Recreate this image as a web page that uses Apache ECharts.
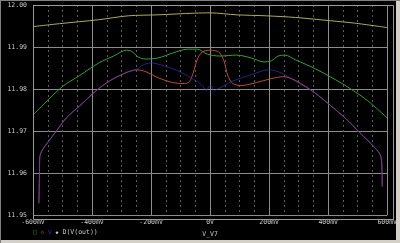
<!DOCTYPE html>
<html>
<head>
<meta charset="utf-8">
<script src="https://cdn.jsdelivr.net/npm/echarts@6/dist/echarts.min.js"></script>
<style>
  html, body { margin: 0; padding: 0; background: #000; }
  #chart { width: 400px; height: 243px; }
</style>
</head>
<body>
<div id="chart"></div>
<script>
// Tick labels
var xTickLabels = ['-600mV', '-400mV', '-200mV', '0V', '200mV', '400mV', '600mV'];
var yTickLabels = ['11.95', '11.96', '11.97', '11.98', '11.99', '12.00'];

// Trace 1 (yellow, top)
var yellowX = [-0.6, -0.51, -0.377, -0.277, -0.177, -0.053, 0, 0.09, 0.19, 0.29, 0.407, 0.49, 0.6];
var yellowY = [11.99486, 11.99556, 11.99650, 11.99743, 11.99766, 11.99806, 11.99813, 11.99766, 11.99743, 11.99703, 11.99626, 11.99568, 11.99463];

// Trace 2 (green)
var greenX = [-0.6, -0.56, -0.5, -0.443, -0.377, -0.327, -0.283, -0.267, -0.243, -0.22, -0.177, -0.127, -0.077, -0.043, -0.01, 0.033, 0.09, 0.14, 0.183, 0.207, 0.23, 0.253, 0.29, 0.357, 0.447, 0.523, 0.563, 0.6];
var greenY = [11.97383, 11.97664, 11.9806, 11.98318, 11.98621, 11.98785, 11.98925, 11.98902, 11.98762, 11.98715, 11.98738, 11.98855, 11.98949, 11.98949, 11.98832, 11.98785, 11.98808, 11.98738, 11.98645, 11.98668, 11.98785, 11.98808, 11.98692, 11.98481, 11.98131, 11.9778, 11.97547, 11.97313];

// Trace 3 (red)
var redX = [-0.58, -0.578, -0.577, -0.567, -0.55, -0.52, -0.487, -0.443, -0.377, -0.327, -0.277, -0.25, -0.217, -0.177, -0.127, -0.087, -0.07, -0.057, -0.043, -0.027, 0, 0.03, 0.047, 0.06, 0.077, 0.107, 0.157, 0.207, 0.25, 0.29, 0.357, 0.457, 0.507, 0.557, 0.577, 0.582, 0.583];
var redY = [11.9528, 11.96028, 11.96379, 11.96565, 11.96729, 11.97009, 11.97313, 11.97593, 11.98014, 11.98248, 11.98411, 11.98458, 11.98411, 11.98271, 11.98154, 11.98131, 11.98178, 11.98388, 11.98715, 11.98879, 11.98925, 11.98879, 11.98668, 11.98318, 11.98131, 11.98084, 11.98154, 11.98248, 11.98294, 11.98201, 11.97897, 11.97313, 11.96963, 11.96612, 11.96425, 11.96145, 11.95678];

// Trace 4 (blue)
var blueX = [-0.58, -0.578, -0.577, -0.567, -0.55, -0.52, -0.487, -0.443, -0.377, -0.327, -0.277, -0.25, -0.227, -0.2, -0.167, -0.11, -0.06, -0.027, -0.013, -0.003, 0.003, 0.013, 0.03, 0.073, 0.14, 0.197, 0.24, 0.29, 0.357, 0.457, 0.507, 0.557, 0.577, 0.582, 0.583];
var blueY = [11.9528, 11.96028, 11.96379, 11.96565, 11.96729, 11.97009, 11.97313, 11.97593, 11.98014, 11.98248, 11.98411, 11.98458, 11.98575, 11.98621, 11.98575, 11.98435, 11.98248, 11.98084, 11.97967, 11.98061, 11.98084, 11.97967, 11.98014, 11.98178, 11.98341, 11.98458, 11.98388, 11.98178, 11.97897, 11.97313, 11.96963, 11.96612, 11.96425, 11.96145, 11.95678];

function pairs(xs, ys) {
  var out = [];
  for (var i = 0; i < xs.length; i++) out.push([xs[i], ys[i]]);
  return out;
}

var txt = '#c8c8c8';
var font = 'DejaVu Sans Mono';

var chart = echarts.init(document.getElementById('chart'), null, {renderer: 'canvas'});

function trace(name, xs, ys, color, opacity) {
  return {
    name: name,
    type: 'line',
    data: pairs(xs, ys),
    showSymbol: false,
    smooth: 0.3,
    lineStyle: {color: color, width: 1, opacity: opacity},
    z: 3
  };
}

chart.setOption({
  backgroundColor: '#000',
  animation: false,
  grid: {left: 33, right: 7, top: 5, bottom: 24},
  xAxis: {
    type: 'value',
    min: -0.6,
    max: 0.6,
    interval: 0.2,
    name: 'V_V7',
    nameLocation: 'middle',
    nameGap: 14,
    nameTextStyle: {color: txt, fontSize: 6.5, fontFamily: font},
    axisLine: {show: false},
    axisTick: {show: false},
    axisLabel: {
      color: txt, fontSize: 6.5, fontFamily: font, margin: 4,
      formatter: function(v) { return xTickLabels[Math.round((v + 0.6) / 0.2)]; }
    },
    splitLine: {lineStyle: {color: '#8c8c8c', width: 1}},
    minorTick: {show: false, splitNumber: 4},
    minorSplitLine: {show: true, lineStyle: {color: '#5e5e5e', width: 1, type: [2, 3]}}
  },
  yAxis: {
    type: 'value',
    min: 11.95,
    max: 12.00,
    interval: 0.01,
    axisLine: {show: false},
    axisTick: {show: true, inside: false, length: 4, lineStyle: {color: '#8c8c8c'}},
    axisLabel: {
      color: txt, fontSize: 6.5, fontFamily: font, margin: 6,
      formatter: function(v) { return yTickLabels[Math.round((v - 11.95) / 0.01)]; }
    },
    splitLine: {lineStyle: {color: '#8c8c8c', width: 1}}
  },
  graphic: [
    {type: 'rect', shape: {x: 33.5, y: 5.5, width: 360, height: 214}, style: {fill: null, stroke: '#9a9a9a', lineWidth: 1}, z: 10},
    {type: 'rect', shape: {x: 0, y: 240, width: 400, height: 3}, style: {fill: '#d4d0c8'}, z: 10},
    {type: 'rect', shape: {x: 396, y: 0, width: 4, height: 243}, style: {fill: '#d4d0c8'}, z: 10},
    {type: 'rect', shape: {x: 0, y: 0, width: 400, height: 1}, style: {fill: '#808080'}, z: 10},
    {type: 'rect', shape: {x: 0, y: 0, width: 1, height: 243}, style: {fill: '#808080'}, z: 10},
    {
      type: 'text', left: 33, top: 229, z: 10,
      style: {
        text: '{g|\u25a1} {r|\u25c7} {b|\u25bd} {w|\u25c6} D(V(out))',
        fill: txt, fontSize: 6.5, fontFamily: font,
        rich: {
          g: {fill: '#30b030', fontSize: 6, fontFamily: font},
          r: {fill: '#c04030', fontSize: 6, fontFamily: font},
          b: {fill: '#4040e0', fontSize: 6, fontFamily: font},
          w: {fill: txt, fontSize: 5, fontFamily: font}
        }
      }
    }
  ],
  series: [
    trace('yellow', yellowX, yellowY, '#b0b048', 1),
    trace('green', greenX, greenY, '#28a828', 1),
    trace('red', redX, redY, '#c04838', 1),
    trace('blue', blueX, blueY, '#3838e8', 0.6)
  ]
});
</script>
</body>
</html>
